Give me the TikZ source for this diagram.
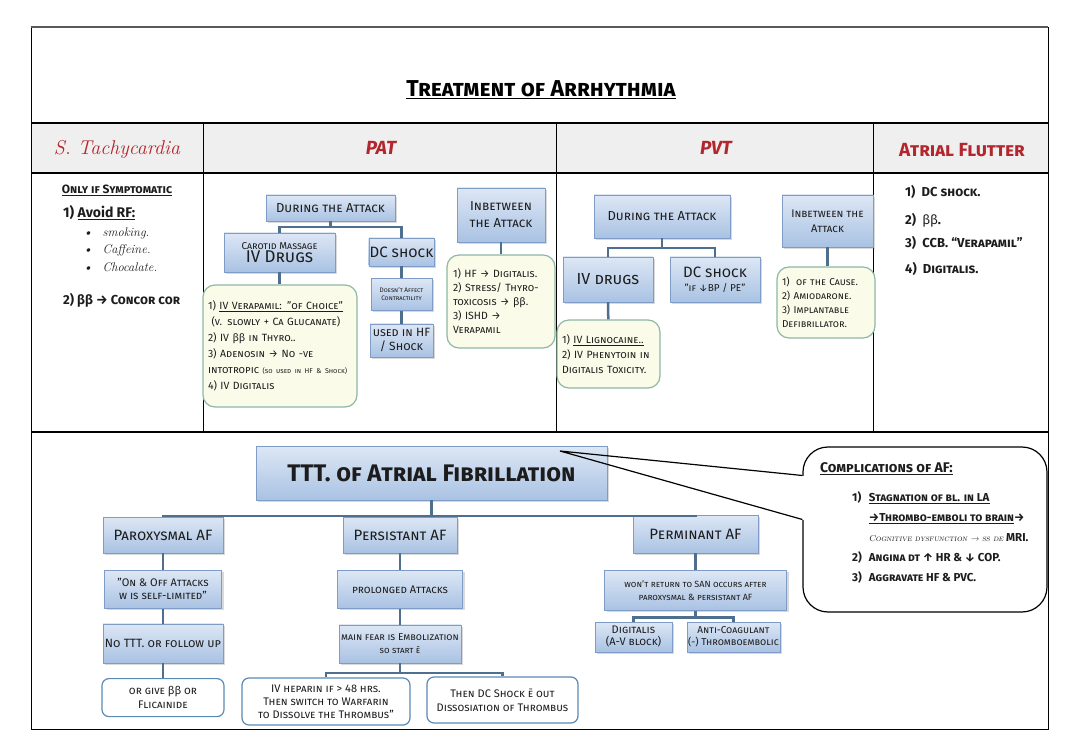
\documentclass[tikz,border=0pt]{standalone}
\usepackage{fontspec}
\setsansfont{Fira Sans}
\renewcommand{\familydefault}{\sfdefault}
\usetikzlibrary{positioning,shadows,calc}

\definecolor{boxtop}{HTML}{DDE7F5}
\definecolor{boxbot}{HTML}{A9C2E3}
\definecolor{boxline}{HTML}{7E9CC6}
\definecolor{conncol}{HTML}{4F6F8F}
\definecolor{notefill}{HTML}{FBFBEA}
\definecolor{noteline}{HTML}{8DB8A4}
\definecolor{endline}{HTML}{5A89B5}
\definecolor{headred}{HTML}{B3262E}
\definecolor{headgray}{HTML}{EFEFEF}
\definecolor{ink}{HTML}{1C1C1C}

\newcommand{\bb}{{\upshape ββ}}
\newcommand{\fsz}[1]{\fontsize{#1}{1.2\dimexpr#1pt\relax}\selectfont}

\begin{document}
\begin{tikzpicture}[x=1pt,y=-1pt,
		bluebox/.style={draw=boxline, top color=boxtop, bottom color=boxbot,
			drop shadow={opacity=.3,shadow xshift=2pt,shadow yshift=-2pt},
			align=center, text=ink, inner sep=1pt, font=\scshape\fsz{13}},
		note/.style={draw=noteline, line width=1.2pt, fill=notefill,
			rounded corners=12pt, align=left, text=ink, inner sep=5pt,
			font=\scshape\fontsize{10.5}{16}\selectfont},
		endbox/.style={draw=endline, line width=1.2pt, fill=white,
			rounded corners=7pt, align=center, text=ink,
			font=\scshape\fontsize{11}{14}\selectfont},
		conn/.style={draw=conncol, line width=2.5pt},
		head/.style={text=headred, font=\bfseries\scshape\fsz{19}},
		item/.style={anchor=west, text=ink, inner sep=0pt}
		]
		
		\useasboundingbox (0,0) rectangle (1080,738);
		
		% table
		\fill[headgray] (31,123) rectangle (1048,173);
		\draw[line width=0.8pt] (31,27) rectangle (1048,729);
		\draw[line width=2pt, gray!70!black] (31,27) -- (1048,27);
		\draw[line width=1.5pt] (31,123) -- (1048,123);
		\draw[line width=1.5pt] (31,173) -- (1048,173);
		\draw[line width=1.5pt] (31,432) -- (1048,432);
		\draw[line width=0.8pt] (203,123) -- (203,432);
		\draw[line width=0.8pt] (556,123) -- (556,432);
		\draw[line width=0.8pt] (873,123) -- (873,432);
		
		\node (title) at (541,90) {\bfseries\scshape\fsz{23}\underline{Treatment of Arrhythmia}};
		
		\node[text=headred, font=\rmfamily\itshape\fsz{20}] (hdsin) at (117,150) {S. Tachycardia};
		\node[head] (hdpat) at (381,148) {\itshape PAT};
		\node[head] (hdpvt) at (716,148) {\itshape PVT};
		\node[head] (hdflu) at (962,150) {Atrial Flutter};
		
		% sinus tachycardia
		\node[text=ink, font=\bfseries\scshape\fsz{12}] (stsym) at (117,190) {\underline{Only if Symptomatic}};
		\node[item, font=\bfseries\fsz{14}] (stavoid) at (63,213) {1) \underline{Avoid RF:}};
		\node[item, font=\rmfamily\itshape\fsz{12.5}] (stsmo) at (83,233) {\textbullet\hspace{10pt}smoking.};
		\node[item, font=\rmfamily\itshape\fsz{12.5}] (stcaf) at (83,250) {\textbullet\hspace{10pt}Caffeine.};
		\node[item, font=\rmfamily\itshape\fsz{12.5}] (stcho) at (83,267) {\textbullet\hspace{10pt}Chocalate.};
		\node[item, font=\bfseries\scshape\fsz{13}] (stcon) at (63,300) {2) \bb{} → Concor cor};
		
		% PAT
		\node[bluebox, minimum width=129pt, minimum height=26pt] (patdur) at (330.5,208) {During the Attack};
		\node[bluebox, minimum width=111pt, minimum height=39pt] (patcar) at (279.5,252.5)
			{{\fsz{10}Carotid Massage}\\[-2pt]{\fsz{17}IV Drugs}};
		\node[bluebox, minimum width=63pt, minimum height=28pt, font=\scshape\fsz{15}] (patdc) at (401.5,252) {DC shock};
		\node[bluebox, minimum width=61pt, minimum height=32pt, font=\scshape\fontsize{6.5}{8}\selectfont] (patcon) [below=12pt of patdc] {Doesn't Affect\\Contractility};
		\node[bluebox, minimum width=63pt, minimum height=33pt, font=\scshape\fontsize{12}{14}\selectfont] (patused) [below=13pt of patcon] {used in HF\\/ Shock};
		\node[note, minimum width=154pt, minimum height=122pt, text width=144pt] (patdrug) at (280,346)
			{1) \underline{IV Verapamil: "of Choice"}\\
			\ (v. slowly + Ca Glucanate)\\
			2) IV \bb{} in Thyro..\\
			3) Adenosin → No -ve\\
			intotropic {\fontsize{7}{8}\selectfont (so used in HF \& Shock)}\\
			4) IV Digitalis};
		\node[bluebox, minimum width=88pt, minimum height=54pt, font=\scshape\fontsize{13}{17}\selectfont] (patin) at (501,215) {Inbetween\\the Attack};
		\node[note, minimum width=108pt, minimum height=93pt, text width=96pt, font=\scshape\fontsize{10.5}{14}\selectfont] (patinnote) at (501,301.5)
			{1) HF → Digitalis.\\
			2) Stress/ Thyro-\\
			toxicosis → \bb.\\
			3) ISHD →\\
			Verapamil};
		
		\draw[conn] (patdur.south) -- ++(0,6) coordinate (patbus);
		\draw[conn] (patbus) -| (patcar.north);
		\draw[conn] (patbus) -| (patdc.north);
		\draw[conn] (patcar.south) -- (patcar.south |- patdrug.north);
		\draw[conn] (patdc) -- (patcon);
		\draw[conn] (patcon) -- (patused);
		\draw[conn] (patin) -- (patinnote);
		
		% PVT
		\node[bluebox, minimum width=136pt, minimum height=43pt] (pvtdur) at (662,216.5) {During the Attack};
		\node[bluebox, minimum width=90pt, minimum height=45pt, font=\scshape\fsz{16}] (pvtiv) at (608,279.5) {IV drugs};
		\node[bluebox, minimum width=90pt, minimum height=45pt, font=\scshape\fontsize{15}{14}\selectfont] (pvtdc) at (715,279.5)
			{DC shock\\{\fsz{10}"if ↓BP / PE"}};
		\node[note, minimum width=103pt, minimum height=68pt, text width=93pt, font=\scshape\fontsize{10.5}{15}\selectfont] (pvtnote) at (608.5,354)
			{1) \underline{IV Lignocaine..}\\
			2) IV Phenytoin in\\
			Digitalis Toxicity.};
		\node[bluebox, minimum width=91pt, minimum height=52pt, font=\scshape\fontsize{11}{15}\selectfont] (pvtin) at (827.5,221) {Inbetween the\\Attack};
		\node[note, minimum width=98pt, minimum height=71pt, text width=88pt, font=\scshape\fontsize{10}{14}\selectfont] (pvtinnote) at (826,302.5)
			{1)\ \ of the Cause.\\
			2) Amiodarone.\\
			3) Implantable\\
			Defibrillator.};
		
		\draw[conn] (pvtdur.south) -- ++(0,10) coordinate (pvtbus);
		\draw[conn] (pvtbus) -| (pvtiv.north);
		\draw[conn] (pvtbus) -| (pvtdc.north);
		\draw[conn] (pvtiv) -- (pvtnote);
		\draw[conn] (pvtin.south) -- (pvtin.south |- pvtinnote.north);
		
		% atrial flutter
		\node[item, font=\bfseries\scshape\fsz{13}] (flu1) at (905,192) {1)\ \ DC shock.};
		\node[item, font=\bfseries\scshape\fsz{13}] (flu2) at (905,220) {2)\ \ {\mdseries\bb}.};
		\node[item, font=\bfseries\scshape\fsz{13}] (flu3) at (905,243) {3)\ \ CCB. “Verapamil”};
		\node[item, font=\bfseries\scshape\fsz{13}] (flu4) at (905,269) {4)\ \ Digitalis.};
		
		% atrial fibrillation
		\node[bluebox, minimum width=351pt, minimum height=54pt, font=\bfseries\scshape\fsz{24}] (afmain) at (431.5,473) {TTT. of Atrial Fibrillation};
		
		\node[bluebox, minimum width=120pt, minimum height=36pt, font=\scshape\fsz{15}] (afpar) at (163,535) {Paroxysmal AF};
		\node[bluebox, minimum width=117pt, minimum height=38pt, font=\scshape\fontsize{11}{13}\selectfont] (afpar2) [below=17pt of afpar] {"On \& Off Attacks\\w is self-limited"};
		\node[bluebox, minimum width=120pt, minimum height=39pt, font=\scshape\fsz{12}] (afpar3) [below=15pt of afpar2] {No TTT. or follow up};
		\node[endbox, minimum width=122pt, minimum height=38pt] (afpar4) [below=15pt of afpar3] {or give \bb{} or\\Flicainide};
		
		\node[bluebox, minimum width=114pt, minimum height=36pt, font=\scshape\fsz{15}] (afper) at (400,535) {Persistant AF};
		\node[bluebox, minimum width=125pt, minimum height=38pt, font=\scshape\fsz{11}] (afper2) [below=17pt of afper] {prolonged Attacks};
		\node[bluebox, minimum width=122pt, minimum height=38pt, font=\scshape\fontsize{10}{13}\selectfont] (afper3) [below=16pt of afper2] {main fear is Embolization\\{\fsz{9}so start ē}};
		\node[endbox, minimum width=168pt, minimum height=47pt, font=\scshape\fontsize{11}{13}\selectfont] (afhep) at (326,701.5)
			{IV heparin if > 48 hrs.\\Then switch to Warfarin\\to Dissolve the Thrombus"};
		\node[endbox, minimum width=151pt, minimum height=46pt, font=\scshape\fontsize{11}{14}\selectfont] (afdc) at (502.5,700)
			{Then DC Shock ē out\\Dissosiation of Thrombus};
		
		\node[bluebox, minimum width=125pt, minimum height=38pt, font=\scshape\fsz{15}] (afperm) at (695.5,534) {Perminant AF};
		\node[bluebox, minimum width=182pt, minimum height=40pt, font=\scshape\fontsize{9}{13}\selectfont] (afperm2) [below=17pt of afperm] {won't return to SAN occurs after\\paroxysmal \& persistant AF};
		\node[bluebox, minimum width=77pt, minimum height=30pt, font=\scshape\fontsize{11}{12}\selectfont] (afdig) at (633.5,637) {Digitalis\\(A-V block)};
		\node[bluebox, minimum width=93pt, minimum height=30pt, font=\scshape\fontsize{10}{12}\selectfont] (afanti) at (733.5,637) {Anti-Coagulant\\(-) Thromboembolic};
		
		\draw[conn] (afmain.south) -- ++(0,16) coordinate (afbus);
		\draw[conn] (afbus) -| (afpar.north);
		\draw[conn] (afbus) -| (afper.north);
		\draw[conn] (afbus) -| (afperm.north);
		\draw[conn] (afpar) -- (afpar2);
		\draw[conn] (afpar2) -- (afpar3);
		\draw[conn] (afpar3) -- (afpar4);
		\draw[conn] (afper) -- (afper2);
		\draw[conn] (afper2) -- (afper3);
		\draw[conn] (afper3.south) -- ++(0,10) coordinate (perbus);
		\draw[conn] (perbus) -| (afhep.north);
		\draw[conn] (perbus) -| (afdc.north);
		\draw[conn] (afperm) -- (afperm2);
		\draw[conn] (afperm2.south) -- ++(0,7) coordinate (permbus);
		\draw[conn] (permbus) -| (afdig.north);
		\draw[conn] (permbus) -| (afanti.north);
		
		% complications callout
		\node[draw, line width=1.2pt, fill=white, rounded corners=25pt,
			minimum width=244pt, minimum height=165pt] (afcomp) at (925,529.5) {};
		\coordinate (aftip) at (560,451);
		\draw[white, line width=3pt] ([yshift=54pt]afcomp.west) -- ([yshift=10pt]afcomp.west);
		\draw[line width=1.2pt] ([yshift=54pt]afcomp.west) -- (aftip) -- ([yshift=10pt]afcomp.west);
		\node[anchor=north west, text=ink, inner sep=0pt, font=\bfseries\scshape\fsz{14}] (afcomph) at (820,462)
			{\underline{Complications of AF:}};
		\node[anchor=north west, text=ink, inner sep=0pt, font=\bfseries\scshape\fontsize{11.5}{20}\selectfont, align=left] (afcompl) at (852,487)
			{\begin{tabular}{@{}l@{\hspace{7pt}}l@{}}
				1) & \underline{Stagnation of bl. in LA}\\
				   & \underline{→Thrombo-emboli to brain}→\\
				   & {\mdseries\rmfamily\itshape\fontsize{8.5}{9}\selectfont Cognitive dysfunction → ss de} MRI.\\
				2) & Angina dt ↑ HR \& ↓ COP.\\
				3) & Aggravate HF \& PVC.
			\end{tabular}};
		
	\end{tikzpicture}
\end{document}
